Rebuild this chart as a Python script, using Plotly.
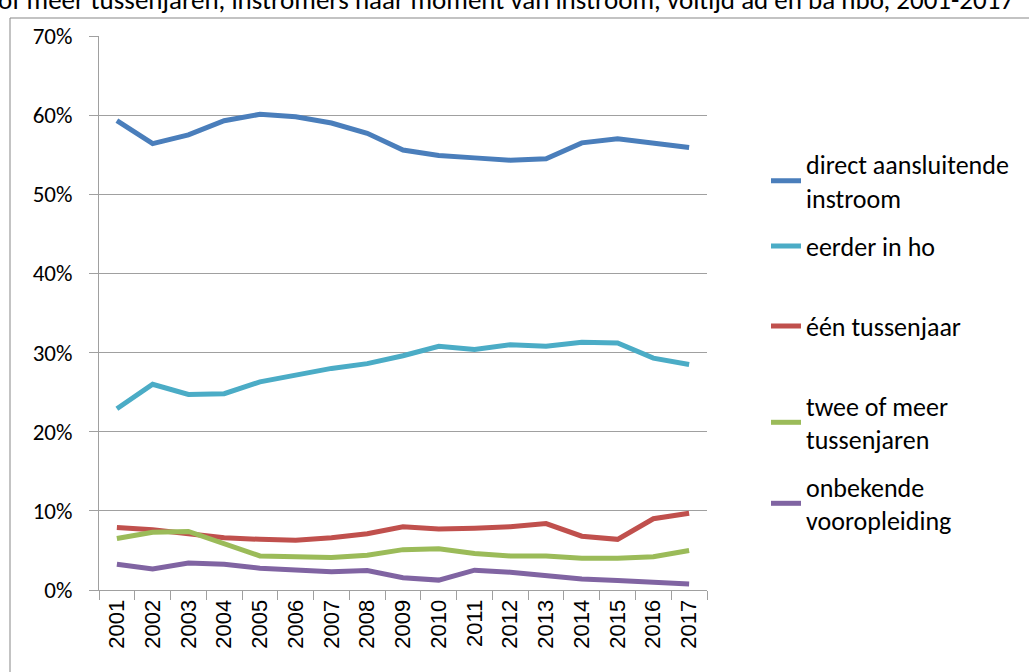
import plotly.graph_objects as go

years = [str(y) for y in range(2001, 2018)]

direct_aansluitend = [59.3, 56.4, 57.5, 59.3, 60.1, 59.8, 59.0, 57.7, 55.6, 54.9, 54.6, 54.3, 54.5, 56.5, 57.0, 56.4, 55.9]
eerder_in_ho = [22.9, 26.0, 24.7, 24.8, 26.3, 27.1, 28.0, 28.6, 29.6, 30.8, 30.4, 31.0, 30.8, 31.3, 31.2, 29.3, 28.5]
een_tussenjaar = [7.9, 7.6, 7.1, 6.6, 6.4, 6.3, 6.6, 7.1, 8.0, 7.7, 7.8, 8.0, 8.4, 6.8, 6.4, 9.0, 9.7]
twee_of_meer = [6.5, 7.3, 7.4, 5.9, 4.3, 4.2, 4.1, 4.4, 5.1, 5.2, 4.6, 4.3, 4.3, 4.0, 4.0, 4.2, 5.0]
onbekend = [3.25, 2.65, 3.4, 3.25, 2.75, 2.5, 2.3, 2.45, 1.55, 1.25, 2.5, 2.25, 1.8, 1.4, 1.2, 1.0, 0.75]

series_names = ["direct aansluitende<br>instroom", "eerder in ho", "één tussenjaar",
                "twee of meer<br>tussenjaren", "onbekende<br>vooropleiding"]
series_values = [direct_aansluitend, eerder_in_ho, een_tussenjaar, twee_of_meer, onbekend]
colors = ["#4A7EBB", "#4BACC6", "#C0504D", "#9BBB59", "#8064A2"]

title_text = "of meer tussenjaren, instromers naar moment van instroom, voltijd ad en ba hbo, 2001-2017"

W, H = 1029, 672
L, R, T, B = 99, 707, 36, 590
pw, ph = R - L, B - T

def px_x(x):
    return (x - L) / pw

def px_y(y):
    return (B - y) / ph

legend_centers = [181, 246, 326, 422.5, 503.5]

fig = go.Figure()
for i, (name, vals, col) in enumerate(zip(series_names, series_values, colors)):
    lg = "legend" if i == 0 else f"legend{i+1}"
    fig.add_trace(go.Scatter(x=years, y=vals, mode="lines", name=name,
                             line=dict(color=col, width=5),
                             legend=lg))

legend_font = dict(family="Carlito, Lato, sans-serif", size=26, color="#000000")
legends = {}
for i, cy in enumerate(legend_centers):
    key = "legend" if i == 0 else f"legend{i+1}"
    legends[key] = dict(x=px_x(766), y=px_y(cy), xanchor="left", yanchor="middle",
                        font=legend_font, bgcolor="rgba(0,0,0,0)",
                        borderwidth=0, tracegroupgap=0)

fig.update_layout(
    width=W, height=H,
    margin=dict(l=L, r=W - R, t=T, b=H - B),
    paper_bgcolor="white", plot_bgcolor="white",
    showlegend=True,
    **legends,
    xaxis=dict(type="category", range=[-0.5, 16.5], tickson="boundaries",
               ticks="outside", ticklen=9, tickcolor="#A0A0A0", tickwidth=1,
               showline=True, linecolor="#A0A0A0", linewidth=1,
               showgrid=False, tickangle=-90,
               tickfont=dict(family="Liberation Sans, Arial, sans-serif", size=22, color="#000000")),
    yaxis=dict(range=[0, 70], dtick=10, ticksuffix="%",
               ticks="outside", ticklen=9, tickcolor="#A0A0A0", tickwidth=1,
               showline=True, linecolor="#A0A0A0", linewidth=1,
               showgrid=True, gridcolor="#A0A0A0", gridwidth=1,
               zeroline=False, ticklabelstandoff=12,
               tickfont=dict(family="Carlito, Lato, sans-serif", size=23, color="#000000")),
)

fig.add_annotation(text=title_text, xref="paper", yref="paper",
                   x=px_x(-4), y=px_y(0), xanchor="left", yanchor="middle",
                   showarrow=False,
                   font=dict(family="Carlito, Lato, sans-serif", size=27, color="#000000"))

fig.add_shape(type="rect", xref="paper", yref="paper",
              x0=px_x(10), x1=px_x(1100), y0=px_y(18), y1=px_y(720),
              line=dict(color="#878787", width=1), fillcolor="rgba(0,0,0,0)", layer="below")

fig.write_html("out.html", config={"displayModeBar": False},
               post_script="document.body.style.margin='0';document.body.style.overflow='hidden';")
